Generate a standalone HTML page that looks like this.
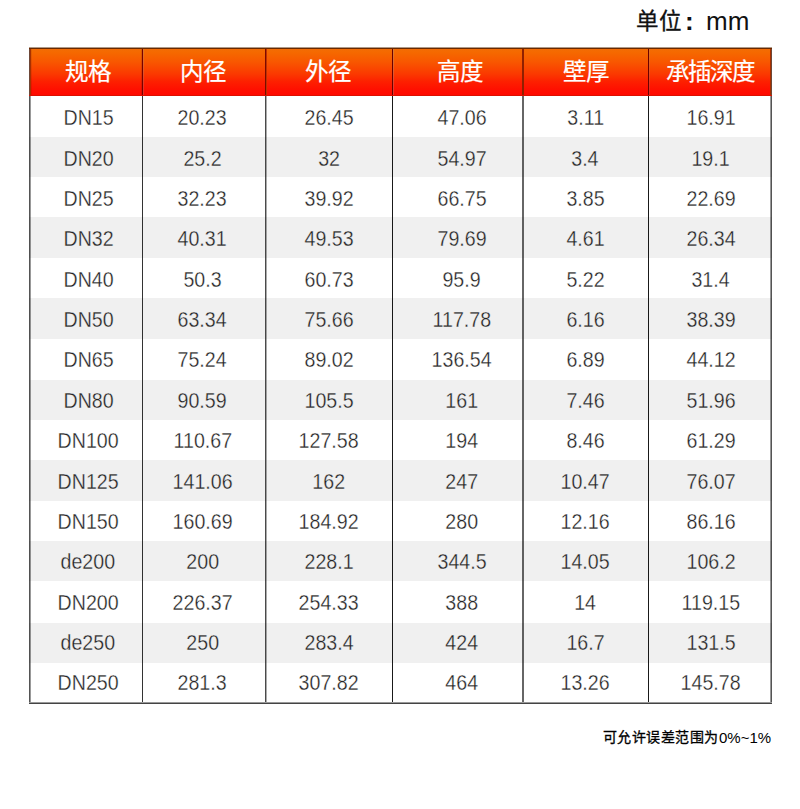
<!DOCTYPE html>
<html lang="zh-CN"><head><meta charset="utf-8">
<style>
html,body{margin:0;padding:0;width:800px;height:809px;overflow:hidden;background:#fff;}
body{position:relative;font-family:"Liberation Sans",sans-serif;}
.a{position:absolute;}
.t{position:absolute;white-space:nowrap;text-align:center;width:200px;margin-left:-100px;line-height:1;}
.d{font-size:20px;color:#222;-webkit-text-stroke:0.3px #fff;}
.g{-webkit-text-stroke-color:#f0f0f0;}
.d span{display:inline-block;transform:scale(0.98,1.12);}
.h{font-size:23.5px;color:#fff;font-weight:500;-webkit-text-stroke:0.2px #fff;}
</style></head><body>

<div class="a" style="left:635.6px;top:8px;font-size:22.5px;color:#111;font-weight:500;-webkit-text-stroke:0.3px #111;line-height:28px;white-space:nowrap;">单位</div>
<div class="a" style="left:685px;top:4px;font-size:26px;color:#111;font-weight:bold;line-height:34px;white-space:nowrap;">:</div>
<div class="a" style="left:706px;top:4px;font-size:26px;color:#111;line-height:34px;white-space:nowrap;">mm</div>
<div class="a" style="left:29px;top:48px;width:743px;height:48px;background:linear-gradient(#f06c08 0%,#f56a00 8%,#f85600 30%,#fb3800 55%,#fd2000 70%,#ff0e00 88%,#ff0800 100%);"></div>
<div class="a" style="left:29px;top:137px;width:743px;height:40px;background:#f0f0f0;"></div>
<div class="a" style="left:29px;top:217px;width:743px;height:41px;background:#f0f0f0;"></div>
<div class="a" style="left:29px;top:298px;width:743px;height:41px;background:#f0f0f0;"></div>
<div class="a" style="left:29px;top:380px;width:743px;height:40px;background:#f0f0f0;"></div>
<div class="a" style="left:29px;top:460px;width:743px;height:41px;background:#f0f0f0;"></div>
<div class="a" style="left:29px;top:541px;width:743px;height:40px;background:#f0f0f0;"></div>
<div class="a" style="left:29px;top:623px;width:743px;height:40px;background:#f0f0f0;"></div>
<div class="a" style="left:29px;top:48px;width:1px;height:656px;background:rgba(0,0,0,0.67);"></div>
<div class="a" style="left:30px;top:48px;width:1px;height:656px;background:rgba(0,0,0,0.4);"></div>
<div class="a" style="left:142px;top:48px;width:1px;height:656px;background:rgba(0,0,0,0.8);"></div>
<div class="a" style="left:265px;top:48px;width:1px;height:656px;background:rgba(0,0,0,0.71);"></div>
<div class="a" style="left:266px;top:48px;width:1px;height:656px;background:rgba(0,0,0,0.33);"></div>
<div class="a" style="left:392px;top:48px;width:1px;height:656px;background:rgba(0,0,0,0.9);"></div>
<div class="a" style="left:522px;top:48px;width:1px;height:656px;background:rgba(0,0,0,0.6);"></div>
<div class="a" style="left:523px;top:48px;width:1px;height:656px;background:rgba(0,0,0,0.6);"></div>
<div class="a" style="left:648px;top:48px;width:1px;height:656px;background:rgba(0,0,0,0.9);"></div>
<div class="a" style="left:770px;top:48px;width:1px;height:656px;background:rgba(0,0,0,0.4);"></div>
<div class="a" style="left:771px;top:48px;width:1px;height:656px;background:rgba(0,0,0,0.67);"></div>
<div class="a" style="left:29px;top:49px;width:1px;height:46px;background:#6e4838;"></div>
<div class="a" style="left:30px;top:49px;width:1px;height:46px;background:#a83000;"></div>
<div class="a" style="left:31px;top:49px;width:1px;height:46px;background:rgba(0,0,0,.08);"></div>
<div class="a" style="left:141px;top:49px;width:1px;height:46px;background:rgba(0,0,0,.12);"></div>
<div class="a" style="left:142px;top:49px;width:1px;height:46px;background:#780000;"></div>
<div class="a" style="left:143px;top:49px;width:1px;height:46px;background:rgba(150,150,150,.25);"></div>
<div class="a" style="left:265px;top:49px;width:1px;height:46px;background:#7a0a00;"></div>
<div class="a" style="left:266px;top:49px;width:1px;height:46px;background:#c03000;"></div>
<div class="a" style="left:392px;top:49px;width:1px;height:46px;background:#6a0000;"></div>
<div class="a" style="left:393px;top:49px;width:1px;height:46px;background:rgba(160,160,160,.3);"></div>
<div class="a" style="left:522px;top:49px;width:1px;height:46px;background:#902000;"></div>
<div class="a" style="left:523px;top:49px;width:1px;height:46px;background:#902000;"></div>
<div class="a" style="left:648px;top:49px;width:1px;height:46px;background:#6a0000;"></div>
<div class="a" style="left:649px;top:49px;width:1px;height:46px;background:rgba(150,150,150,.2);"></div>
<div class="a" style="left:770px;top:49px;width:1px;height:46px;background:#a83000;"></div>
<div class="a" style="left:771px;top:49px;width:1px;height:46px;background:#6e4838;"></div>
<div class="a" style="left:29px;top:47px;width:743px;height:1px;background:#b09a88;"></div>
<div class="a" style="left:29px;top:48px;width:743px;height:1px;background:#6a2800;"></div>
<div class="a" style="left:29px;top:95px;width:743px;height:1px;background:#dc1000;"></div>
<div class="a" style="left:29px;top:702px;width:743px;height:1px;background:#999;"></div>
<div class="a" style="left:29px;top:703px;width:743px;height:1px;background:#444;"></div>
<div class="t h" style="left:88.20px;top:60.5px;">规格</div>
<div class="t h" style="left:203.20px;top:60.5px;">内径</div>
<div class="t h" style="left:328.00px;top:60.5px;">外径</div>
<div class="t h" style="left:460.00px;top:60.5px;">高度</div>
<div class="t h" style="left:586.00px;top:60.5px;">壁厚</div>
<div class="t h" style="left:710.00px;top:60.5px;letter-spacing:-1px;">承插深度</div>
<div class="t d" style="left:88.25px;top:107.30px;"><span>DN15</span></div>
<div class="t d" style="left:202.50px;top:107.30px;"><span>20.23</span></div>
<div class="t d" style="left:329.00px;top:107.30px;"><span>26.45</span></div>
<div class="t d" style="left:461.75px;top:107.30px;"><span>47.06</span></div>
<div class="t d" style="left:585.25px;top:107.30px;"><span>3.11</span></div>
<div class="t d" style="left:710.75px;top:107.30px;"><span>16.91</span></div>
<div class="t d g" style="left:88.25px;top:147.66px;"><span>DN20</span></div>
<div class="t d g" style="left:202.50px;top:147.66px;"><span>25.2</span></div>
<div class="t d g" style="left:329.00px;top:147.66px;"><span>32</span></div>
<div class="t d g" style="left:461.75px;top:147.66px;"><span>54.97</span></div>
<div class="t d g" style="left:585.25px;top:147.66px;"><span>3.4</span></div>
<div class="t d g" style="left:710.75px;top:147.66px;"><span>19.1</span></div>
<div class="t d" style="left:88.25px;top:188.02px;"><span>DN25</span></div>
<div class="t d" style="left:202.50px;top:188.02px;"><span>32.23</span></div>
<div class="t d" style="left:329.00px;top:188.02px;"><span>39.92</span></div>
<div class="t d" style="left:461.75px;top:188.02px;"><span>66.75</span></div>
<div class="t d" style="left:585.25px;top:188.02px;"><span>3.85</span></div>
<div class="t d" style="left:710.75px;top:188.02px;"><span>22.69</span></div>
<div class="t d g" style="left:88.25px;top:228.38px;"><span>DN32</span></div>
<div class="t d g" style="left:202.50px;top:228.38px;"><span>40.31</span></div>
<div class="t d g" style="left:329.00px;top:228.38px;"><span>49.53</span></div>
<div class="t d g" style="left:461.75px;top:228.38px;"><span>79.69</span></div>
<div class="t d g" style="left:585.25px;top:228.38px;"><span>4.61</span></div>
<div class="t d g" style="left:710.75px;top:228.38px;"><span>26.34</span></div>
<div class="t d" style="left:88.25px;top:268.74px;"><span>DN40</span></div>
<div class="t d" style="left:202.50px;top:268.74px;"><span>50.3</span></div>
<div class="t d" style="left:329.00px;top:268.74px;"><span>60.73</span></div>
<div class="t d" style="left:461.75px;top:268.74px;"><span>95.9</span></div>
<div class="t d" style="left:585.25px;top:268.74px;"><span>5.22</span></div>
<div class="t d" style="left:710.75px;top:268.74px;"><span>31.4</span></div>
<div class="t d g" style="left:88.25px;top:309.10px;"><span>DN50</span></div>
<div class="t d g" style="left:202.50px;top:309.10px;"><span>63.34</span></div>
<div class="t d g" style="left:329.00px;top:309.10px;"><span>75.66</span></div>
<div class="t d g" style="left:461.75px;top:309.10px;"><span>117.78</span></div>
<div class="t d g" style="left:585.25px;top:309.10px;"><span>6.16</span></div>
<div class="t d g" style="left:710.75px;top:309.10px;"><span>38.39</span></div>
<div class="t d" style="left:88.25px;top:349.46px;"><span>DN65</span></div>
<div class="t d" style="left:202.50px;top:349.46px;"><span>75.24</span></div>
<div class="t d" style="left:329.00px;top:349.46px;"><span>89.02</span></div>
<div class="t d" style="left:461.75px;top:349.46px;"><span>136.54</span></div>
<div class="t d" style="left:585.25px;top:349.46px;"><span>6.89</span></div>
<div class="t d" style="left:710.75px;top:349.46px;"><span>44.12</span></div>
<div class="t d g" style="left:88.25px;top:389.82px;"><span>DN80</span></div>
<div class="t d g" style="left:202.50px;top:389.82px;"><span>90.59</span></div>
<div class="t d g" style="left:329.00px;top:389.82px;"><span>105.5</span></div>
<div class="t d g" style="left:461.75px;top:389.82px;"><span>161</span></div>
<div class="t d g" style="left:585.25px;top:389.82px;"><span>7.46</span></div>
<div class="t d g" style="left:710.75px;top:389.82px;"><span>51.96</span></div>
<div class="t d" style="left:88.25px;top:430.18px;"><span>DN100</span></div>
<div class="t d" style="left:202.50px;top:430.18px;"><span>110.67</span></div>
<div class="t d" style="left:329.00px;top:430.18px;"><span>127.58</span></div>
<div class="t d" style="left:461.75px;top:430.18px;"><span>194</span></div>
<div class="t d" style="left:585.25px;top:430.18px;"><span>8.46</span></div>
<div class="t d" style="left:710.75px;top:430.18px;"><span>61.29</span></div>
<div class="t d g" style="left:88.25px;top:470.54px;"><span>DN125</span></div>
<div class="t d g" style="left:202.50px;top:470.54px;"><span>141.06</span></div>
<div class="t d g" style="left:329.00px;top:470.54px;"><span>162</span></div>
<div class="t d g" style="left:461.75px;top:470.54px;"><span>247</span></div>
<div class="t d g" style="left:585.25px;top:470.54px;"><span>10.47</span></div>
<div class="t d g" style="left:710.75px;top:470.54px;"><span>76.07</span></div>
<div class="t d" style="left:88.25px;top:510.90px;"><span>DN150</span></div>
<div class="t d" style="left:202.50px;top:510.90px;"><span>160.69</span></div>
<div class="t d" style="left:329.00px;top:510.90px;"><span>184.92</span></div>
<div class="t d" style="left:461.75px;top:510.90px;"><span>280</span></div>
<div class="t d" style="left:585.25px;top:510.90px;"><span>12.16</span></div>
<div class="t d" style="left:710.75px;top:510.90px;"><span>86.16</span></div>
<div class="t d g" style="left:88.25px;top:551.26px;"><span>de200</span></div>
<div class="t d g" style="left:202.50px;top:551.26px;"><span>200</span></div>
<div class="t d g" style="left:329.00px;top:551.26px;"><span>228.1</span></div>
<div class="t d g" style="left:461.75px;top:551.26px;"><span>344.5</span></div>
<div class="t d g" style="left:585.25px;top:551.26px;"><span>14.05</span></div>
<div class="t d g" style="left:710.75px;top:551.26px;"><span>106.2</span></div>
<div class="t d" style="left:88.25px;top:591.62px;"><span>DN200</span></div>
<div class="t d" style="left:202.50px;top:591.62px;"><span>226.37</span></div>
<div class="t d" style="left:329.00px;top:591.62px;"><span>254.33</span></div>
<div class="t d" style="left:461.75px;top:591.62px;"><span>388</span></div>
<div class="t d" style="left:585.25px;top:591.62px;"><span>14</span></div>
<div class="t d" style="left:710.75px;top:591.62px;"><span>119.15</span></div>
<div class="t d g" style="left:88.25px;top:631.98px;"><span>de250</span></div>
<div class="t d g" style="left:202.50px;top:631.98px;"><span>250</span></div>
<div class="t d g" style="left:329.00px;top:631.98px;"><span>283.4</span></div>
<div class="t d g" style="left:461.75px;top:631.98px;"><span>424</span></div>
<div class="t d g" style="left:585.25px;top:631.98px;"><span>16.7</span></div>
<div class="t d g" style="left:710.75px;top:631.98px;"><span>131.5</span></div>
<div class="t d" style="left:88.25px;top:672.34px;"><span>DN250</span></div>
<div class="t d" style="left:202.50px;top:672.34px;"><span>281.3</span></div>
<div class="t d" style="left:329.00px;top:672.34px;"><span>307.82</span></div>
<div class="t d" style="left:461.75px;top:672.34px;"><span>464</span></div>
<div class="t d" style="left:585.25px;top:672.34px;"><span>13.26</span></div>
<div class="t d" style="left:710.75px;top:672.34px;"><span>145.78</span></div>
<div class="a" style="left:602.5px;top:729px;font-size:14px;color:#000;line-height:17px;white-space:nowrap;font-weight:500;-webkit-text-stroke:0.3px #000;letter-spacing:0.5px;">可允许误差范围为</div>
<div class="a" style="left:719px;top:729px;font-size:15px;color:#000;line-height:17px;white-space:nowrap;">0%~1%</div>
</body></html>
